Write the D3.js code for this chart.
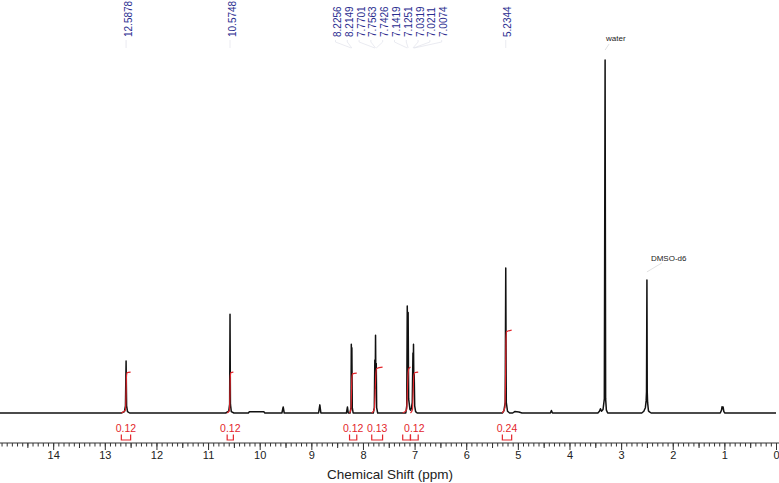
<!DOCTYPE html>
<html>
<head>
<meta charset="utf-8">
<script src="https://cdn.jsdelivr.net/npm/d3@7"></script>
<style>
  body { margin: 0; background: #fff; }
  svg { display: block; font-family: "Liberation Sans", Arial, sans-serif; }
</style>
</head>
<body>
<svg id="chart" width="779" height="483"></svg>
<script>
// spectrum trace, [ppm, intensity] (water top = 100)
const spectrum = [
  [15.03, 0],
  [12.68, 0], [12.62, 0.4], [12.600, 2], [12.5878, 14.7], [12.578, 2], [12.56, 0.4], [12.52, 0],
  [10.66, 0], [10.60, 0.5], [10.582, 2.5], [10.5748, 28], [10.567, 2.5], [10.55, 0.4], [10.50, 0],
  [10.22, 0], [10.20, 0.35], [9.92, 0.35], [9.90, 0],
  [9.57, 0], [9.545, 1.7], [9.525, 0],
  [8.86, 0], [8.835, 2.3], [8.815, 0],
  [8.32, 0], [8.30, 1.7], [8.285, 0],
  [8.25, 0], [8.232, 1.5], [8.2256, 19.5], [8.220, 9], [8.2149, 18.5], [8.207, 1.5], [8.19, 0],
  [7.80, 0], [7.78, 1.5], [7.7701, 15], [7.763, 7], [7.7563, 22], [7.749, 7], [7.7426, 14], [7.735, 1.5], [7.715, 0],
  [7.17, 0], [7.152, 2], [7.1419, 30.3], [7.134, 14], [7.1251, 28.5], [7.115, 4],
  [7.09, 1], [7.075, 0.8], [7.06, 1.5], [7.045, 3],
  [7.0319, 17], [7.026, 9], [7.0211, 19.5], [7.014, 8], [7.0074, 11], [6.998, 2], [6.98, 0.4], [6.95, 0],
  [5.30, 0], [5.27, 0.6], [5.245, 3], [5.2344, 41.1], [5.224, 3], [5.20, 0.5], [5.16, 0],
  [5.10, 0], [5.06, 0.4], [4.98, 0.3], [4.92, 0],
  [4.37, 0], [4.35, 0.7], [4.33, 0],
  [3.45, 0], [3.42, 0.5], [3.40, 1.2], [3.38, 0.5], [3.35, 1], [3.325, 4], [3.31, 100], [3.30, 4], [3.285, 0.8], [3.26, 0],
  [2.60, 0], [2.56, 0.5], [2.53, 1.5], [2.515, 3.5], [2.508, 6], [2.500, 37.7], [2.494, 6], [2.487, 3], [2.47, 0.6], [2.45, 0.3], [2.42, 0],
  [1.08, 0], [1.055, 0.8], [1.045, 1.8], [1.035, 1.2], [1.025, 1.7], [1.01, 0.4], [0.99, 0],
  [0, 0]
];

// integral curves, [ppm, integral height]
const integralCurves = [
  [[12.68, 0], [12.60, 0.8], [12.589, 5], [12.582, 10], [12.57, 11.4], [12.50, 11.6]],
  [[10.63, 0], [10.585, 0.8], [10.576, 5], [10.570, 10], [10.56, 11.4], [10.51, 11.6]],
  [[8.26, 0], [8.232, 1], [8.224, 5], [8.214, 10], [8.20, 11.1], [8.12, 11.3]],
  [[7.83, 0], [7.78, 1], [7.766, 5], [7.752, 10.5], [7.735, 12.6], [7.62, 13]],
  [[7.23, 0], [7.152, 1], [7.14, 6], [7.126, 11], [7.11, 12.6], [7.08, 13]],
  [[7.08, 0], [7.04, 1], [7.028, 6], [7.015, 10.5], [7.0, 11.4], [6.93, 11.6]],
  [[5.30, 0], [5.25, 1.5], [5.238, 10], [5.23, 20], [5.22, 23], [5.12, 23.5]]
];
const intFrom = [12.68, 10.63, 8.26, 7.83, 7.23, 7.08, 5.30];
const intTo = [12.50, 10.51, 8.12, 7.62, 7.08, 6.93, 5.12];
const intValues = ["0.12", "0.12", "0.12", "0.13", "0.12", "0.12", "0.24"];

// picked peaks
const peakPpm = [12.5878, 10.5748, 8.2256, 8.2149, 7.7701, 7.7563, 7.7426,
  7.1419, 7.1251, 7.0319, 7.0211, 7.0074, 5.2344];

// solvent annotations
const solventNames = ["water", "DMSO-d6"];
const solventPpm = [3.31, 2.50];
const solventHeight = [100, 37.7];

const majorTicks = d3.range(0, 15, 1);
const minorTicks = d3.range(0, 151, 1).map(d => d / 10);
const halfTicks = d3.range(0, 15, 1).map(d => d + 0.5);

const svg = d3.select("#chart");
const x = d3.scaleLinear().domain([15.03, 0]).range([0, 776]);
const y = d3.scaleLinear().domain([0, 100]).range([413, 60]);

// spectrum
const line = d3.line().x(d => x(d[0])).y(d => y(d[1]));
svg.append("path")
  .attr("d", line(spectrum))
  .attr("fill", "none")
  .attr("stroke", "#111")
  .attr("stroke-width", 1.5)
  .attr("stroke-linejoin", "round");

// integral curves
const red = "#e3262c";
integralCurves.forEach(pts => {
  svg.append("path")
    .attr("d", d3.line().x(d => x(d[0])).y(d => y(d[1])).curve(d3.curveMonotoneX)(pts))
    .attr("fill", "none")
    .attr("stroke", red)
    .attr("stroke-width", 1.2);
});

// integral brackets
intFrom.forEach((f, i) => {
  const x1 = x(f), x2 = x(intTo[i]);
  svg.append("path")
    .attr("d", `M${x1},434.5V440H${x2}V434.5`)
    .attr("fill", "none")
    .attr("stroke", red)
    .attr("stroke-width", 1.2);
});

// integral labels, right to left, skip a label that would overlap
const kept = [];
d3.range(intFrom.length).reverse().forEach(i => {
  const cx = (x(intFrom[i]) + x(intTo[i])) / 2;
  if (kept.some(k => Math.abs(k - cx) < 20)) return;
  kept.push(cx);
  svg.append("text")
    .attr("x", cx)
    .attr("y", 432)
    .attr("text-anchor", "middle")
    .attr("font-size", 10.5)
    .attr("fill", red)
    .text(intValues[i]);
});

// axis
const gAxis = svg.append("g").attr("transform", "translate(0,443)");
gAxis.call(d3.axisBottom(x).tickValues(majorTicks).tickSize(7).tickSizeOuter(0).tickFormat(d3.format("d")));
gAxis.append("g").call(d3.axisBottom(x).tickValues(minorTicks).tickSize(3.5).tickFormat(""))
  .select(".domain").remove();
gAxis.append("g").call(d3.axisBottom(x).tickValues(halfTicks).tickSize(5).tickFormat(""))
  .select(".domain").remove();
gAxis.selectAll("path, line").attr("stroke", "#333");
gAxis.selectAll("text")
  .attr("font-size", 11)
  .attr("font-family", "Liberation Sans, Arial, sans-serif")
  .attr("fill", "#222")
  .attr("dy", "0.55em");
gAxis.select(".domain").attr("d", "M0,0H779");

svg.append("text")
  .attr("x", 390)
  .attr("y", 479)
  .attr("text-anchor", "middle")
  .attr("font-size", 13.5)
  .attr("fill", "#222")
  .text("Chemical Shift (ppm)");

// peak labels, spread so they do not overlap
const px = peakPpm.map(p => x(p));
const lx = px.slice();
const gap = 11.8;
for (let it = 0; it < 300; it++) {
  for (let i = 1; i < lx.length; i++) {
    const d = lx[i] - lx[i - 1];
    if (d < gap) {
      const s = (gap - d) / 2;
      lx[i - 1] -= s;
      lx[i] += s;
    }
  }
}
const blue = "#2a2d8f";
peakPpm.forEach((p, i) => {
  svg.append("path")
    .attr("d", `M${lx[i]},40V42L${px[i]},48`)
    .attr("fill", "none")
    .attr("stroke", "#dcdde8")
    .attr("stroke-width", 0.6);
  svg.append("text")
    .attr("transform", `translate(${lx[i] + 2},37) rotate(-90)`)
    .attr("dy", "0.35em")
    .attr("font-size", 10)
    .attr("fill", blue)
    .text(p.toFixed(4));
});

// solvent labels
solventNames.forEach((name, i) => {
  const sx = x(solventPpm[i]), sy = y(solventHeight[i]);
  svg.append("path")
    .attr("d", i === 0 ? `M${sx},${sy - 10}L${sx + 4},${sy - 16}` : `M${sx},${sy - 8}L${sx + 15},${sy - 17}`)
    .attr("fill", "none")
    .attr("stroke", "#ccc")
    .attr("stroke-width", 0.6);
  svg.append("text")
    .attr("x", sx + (i === 0 ? 1 : 4))
    .attr("y", sy - 19)
    .attr("font-size", 8)
    .attr("fill", "#222")
    .text(name);
});
</script>
</body>
</html>
